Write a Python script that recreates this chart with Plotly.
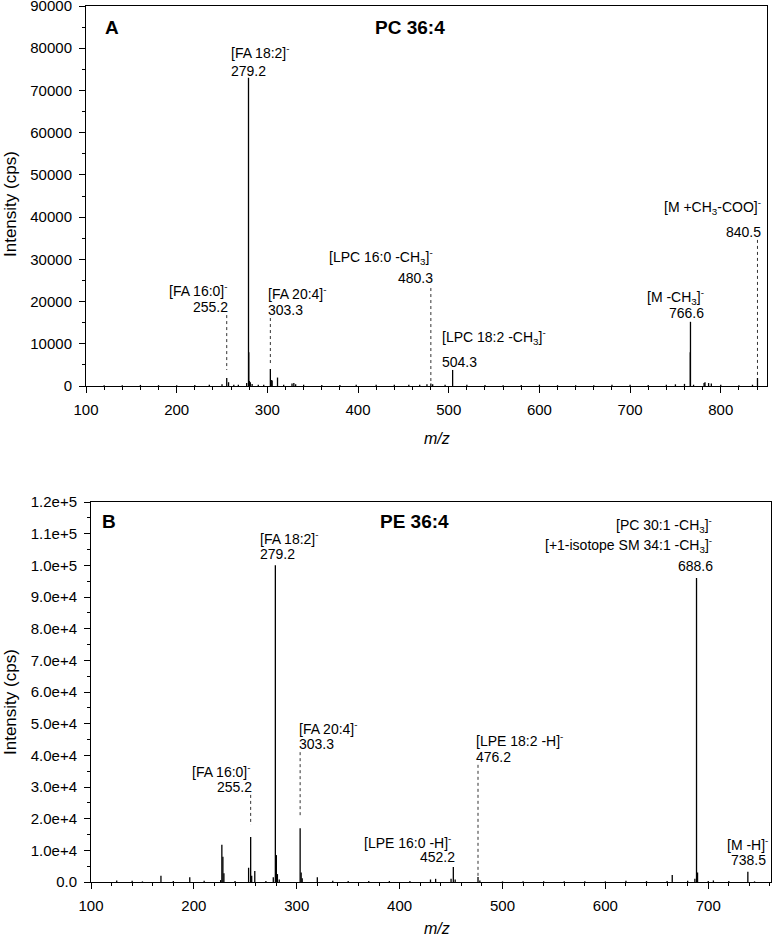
import plotly.graph_objects as go

# ---------------- Data ----------------
# Panel A: PC 36:4 product-ion spectrum (m/z, intensity in cps)
a_mz = [120, 140, 160, 180, 200, 220, 236, 250, 255.2, 257.2, 263, 268, 277.2, 279.2, 279.5,
        280.2, 281.2, 283.2, 290, 296, 303.3, 304.3, 305.3, 311.2, 318, 327.2, 329.2, 331.2,
        340, 360, 380, 398, 420, 440, 456, 468, 476, 480.3, 482.3, 496, 504.3, 520, 540,
        560, 580, 600, 620, 640, 660, 680, 700, 720, 740, 750, 760, 766.4, 766.6, 770,
        781.6, 782.6, 786.6, 789.6, 800, 820, 835, 840.5]
a_int = [200, 200, 250, 200, 200, 250, 300, 400, 1900, 900, 300, 300, 700, 73000, 8000,
         1200, 900, 500, 300, 300, 4000, 1400, 1300, 2000, 300, 600, 700, 400,
         300, 250, 250, 300, 300, 300, 300, 300, 400, 600, 400, 300, 3800, 300, 250,
         200, 250, 300, 200, 200, 200, 300, 300, 250, 300, 400, 500, 8000, 15200, 300,
         700, 900, 700, 600, 300, 200, 300, 1900]

# Panel B: PE 36:4 product-ion spectrum
b_mz = [125, 140, 150, 168, 180, 196, 210, 226, 227.2, 228.2, 229.2, 240, 253.2, 255.2,
        256.2, 259.2, 270, 277.2, 279.2, 280.2, 281.2, 283, 303.3, 304.3, 305.3, 320,
        335, 350, 370, 390, 410, 430, 435, 450, 452.2, 454, 476.2, 478, 500, 520, 540,
        560, 580, 600, 620, 640, 660, 665, 680, 687, 688.6, 689.6, 700, 705, 720, 738.5, 745]
b_int = [500, 400, 200, 2000, 300, 1500, 400, 600, 11800, 8000, 2800, 300, 4500, 14200,
         2000, 3500, 300, 1500, 100000, 8500, 2500, 800, 17000, 3000, 1200, 1500,
         400, 300, 300, 300, 300, 800, 1000, 1000, 4700, 800, 1600, 500, 200, 200, 200,
         200, 200, 200, 400, 300, 300, 2200, 400, 1000, 96000, 3000, 300, 500, 300, 3200, 200]

# Dotted leader lines: (m/z, from intensity, to intensity)
a_leaders_mz = [255.2, 303.3, 480.3, 840.5]
a_leaders_top = [16800, 16100, 23200, 34600]
a_leaders_bot = [3800, 5400, 700, 2100]
b_leaders_mz = [255.2, 303.3, 476.2]
b_leaders_top = [27500, 41000, 37000]
b_leaders_bot = [18000, 20200, 1600]

# Tick labels
a_ytickvals = [0, 10000, 20000, 30000, 40000, 50000, 60000, 70000, 80000, 90000]
a_yticktext = ["0", "10000", "20000", "30000", "40000", "50000", "60000", "70000", "80000", "90000"]
b_ytickvals = [0, 10000, 20000, 30000, 40000, 50000, 60000, 70000, 80000, 90000, 100000, 110000, 120000]
b_yticktext = ["0.0", "1.0e+4", "2.0e+4", "3.0e+4", "4.0e+4", "5.0e+4", "6.0e+4", "7.0e+4",
               "8.0e+4", "9.0e+4", "1.0e+5", "1.1e+5", "1.2e+5"]

M = "<sup>-</sup>"
CH3 = "CH<sub>3</sub>"
# Peak labels: (text, x, y, xanchor)
a_labels = [
    ("[FA 18:2]" + M, 257.6, 79100, "left"),
    ("279.2", 257.6, 74600, "left"),
    ("[FA 16:0]" + M, 258.7, 22700, "right"),
    ("255.2", 258.7, 18700, "right"),
    ("[FA 20:4]" + M, 298.4, 22000, "left"),
    ("303.3", 298.4, 18000, "left"),
    ("[LPC 16:0 -" + CH3 + "]" + M, 484.7, 30550, "right"),
    ("480.3", 484.7, 25600, "right"),
    ("[LPC 18:2 -" + CH3 + "]" + M, 490.3, 11600, "left"),
    ("504.3", 490.3, 5700, "left"),
    ("[M -" + CH3 + "]" + M, 783.5, 21100, "right"),
    ("766.6", 783.5, 17300, "right"),
    ("[M +" + CH3 + "-COO]" + M, 846.3, 42400, "right"),
    ("840.5", 846.3, 36500, "right"),
]
b_labels = [
    ("[FA 18:2]" + M, 262.6, 108600, "left"),
    ("279.2", 262.6, 103600, "left"),
    ("[PC 30:1 -" + CH3 + "]" + M, 705.7, 112700, "right"),
    ("[+1-isotope SM 34:1 -" + CH3 + "]" + M, 705.7, 106400, "right"),
    ("688.6", 706.7, 99800, "right"),
    ("[FA 20:4]" + M, 300.5, 48600, "left"),
    ("303.3", 300.5, 43600, "left"),
    ("[FA 16:0]" + M, 257.6, 35100, "right"),
    ("255.2", 258.7, 30000, "right"),
    ("[LPE 16:0 -H]" + M, 452.2, 12600, "right"),
    ("452.2", 456.0, 7900, "right"),
    ("[LPE 18:2 -H]" + M, 472.5, 44800, "left"),
    ("476.2", 472.5, 39500, "left"),
    ("[M -H]" + M, 716.3, 12000, "left"),
    ("738.5", 758.2, 6900, "right"),
]

FONT = "Liberation Sans, Arial, Helvetica, sans-serif"


def sticks(mz, inten):
    xs, ys = [], []
    for m, i in zip(mz, inten):
        xs += [m, m, None]
        ys += [0, i, None]
    return xs, ys


def leaders(mz, top, bot):
    xs, ys = [], []
    for m, t, b in zip(mz, top, bot):
        xs += [m, m, None]
        ys += [t, b, None]
    return xs, ys


fig = go.Figure()

ax, ay = sticks(a_mz, a_int)
fig.add_trace(go.Scatter(x=ax, y=ay, mode="lines", line=dict(color="black", width=1.3),
                         xaxis="x", yaxis="y", hoverinfo="skip", showlegend=False))
lx, ly = leaders(a_leaders_mz, a_leaders_top, a_leaders_bot)
fig.add_trace(go.Scatter(x=lx, y=ly, mode="lines", line=dict(color="#333333", width=1, dash="dot"),
                         xaxis="x", yaxis="y", hoverinfo="skip", showlegend=False))

bx, by = sticks(b_mz, b_int)
fig.add_trace(go.Scatter(x=bx, y=by, mode="lines", line=dict(color="black", width=1.3),
                         xaxis="x2", yaxis="y2", hoverinfo="skip", showlegend=False))
lx, ly = leaders(b_leaders_mz, b_leaders_top, b_leaders_bot)
fig.add_trace(go.Scatter(x=lx, y=ly, mode="lines", line=dict(color="#333333", width=1, dash="dot"),
                         xaxis="x2", yaxis="y2", hoverinfo="skip", showlegend=False))

W, H = 774, 938

axis_common = dict(showline=True, linecolor="black", linewidth=1, mirror=True,
                   ticks="outside", ticklen=6, tickwidth=1, tickcolor="black",
                   showgrid=False, zeroline=False, automargin=False,
                   ticklabeloverflow="allow",
                   tickfont=dict(family=FONT, size=15, color="black"))

xa = dict(axis_common, range=[100, 851], tickvals=[100, 200, 300, 400, 500, 600, 700, 800],
          minor=dict(dtick=20, tick0=100, ticks="outside", ticklen=3, tickcolor="black", showgrid=False),
          domain=[86 / W, 767 / W], anchor="y", ticklabelstandoff=4)
ya = dict(axis_common, range=[0, 90000], tickvals=a_ytickvals, ticktext=a_yticktext,
          minor=dict(dtick=5000, tick0=0, ticks="outside", ticklen=3, tickcolor="black", showgrid=False),
          domain=[(H - 386) / H, (H - 6) / H], anchor="x", ticklabelstandoff=4)
xb = dict(axis_common, range=[100, 761], tickvals=[100, 200, 300, 400, 500, 600, 700],
          minor=dict(dtick=20, tick0=100, ticks="outside", ticklen=3, tickcolor="black", showgrid=False),
          domain=[91 / W, 771 / W], anchor="y2", ticklabelstandoff=4)
yb = dict(axis_common, range=[0, 120000], tickvals=b_ytickvals, ticktext=b_yticktext,
          minor=dict(dtick=5000, tick0=0, ticks="outside", ticklen=3, tickcolor="black", showgrid=False),
          domain=[(H - 882) / H, (H - 502) / H], anchor="x2", ticklabelstandoff=4)

annotations = []
for (t, x, y, xa_) in a_labels:
    annotations.append(dict(text=t, x=x, y=y, xref="x", yref="y", xanchor=xa_, yanchor="middle",
                            showarrow=False, font=dict(family=FONT, size=14, color="black")))
for (t, x, y, xa_) in b_labels:
    annotations.append(dict(text=t, x=x, y=y, xref="x2", yref="y2", xanchor=xa_, yanchor="middle",
                            showarrow=False, font=dict(family=FONT, size=14, color="black")))

# panel letters & titles
annotations += [
    dict(text="<b>A</b>", x=118.7, y=85000, xref="x", yref="y", xanchor="left", yanchor="middle",
         showarrow=False, font=dict(family=FONT, size=19, color="black")),
    dict(text="<b>PC 36:4</b>", x=416.4, y=85000, xref="x", yref="y", xanchor="left", yanchor="middle",
         showarrow=False, font=dict(family=FONT, size=19, color="black")),
    dict(text="<b>B</b>", x=109, y=113700, xref="x2", yref="y2", xanchor="left", yanchor="middle",
         showarrow=False, font=dict(family=FONT, size=19, color="black")),
    dict(text="<b>PE 36:4</b>", x=379.2, y=113700, xref="x2", yref="y2", xanchor="left", yanchor="middle",
         showarrow=False, font=dict(family=FONT, size=19, color="black")),
    # axis titles
    dict(text="Intensity (cps)", x=10 / W, y=(H - 204) / H, xref="paper", yref="paper",
         textangle=-90, showarrow=False, xanchor="center", yanchor="middle",
         font=dict(family=FONT, size=17, color="black")),
    dict(text="Intensity (cps)", x=10 / W, y=(H - 702) / H, xref="paper", yref="paper",
         textangle=-90, showarrow=False, xanchor="center", yanchor="middle",
         font=dict(family=FONT, size=17, color="black")),
    dict(text="<i>m/z</i>", x=437 / W, y=(H - 438) / H, xref="paper", yref="paper",
         showarrow=False, xanchor="center", yanchor="middle",
         font=dict(family=FONT, size=16, color="black")),
    dict(text="<i>m/z</i>", x=437 / W, y=(H - 928) / H, xref="paper", yref="paper",
         showarrow=False, xanchor="center", yanchor="middle",
         font=dict(family=FONT, size=16, color="black")),
]

fig.update_layout(
    width=W, height=H,
    margin=dict(l=0, r=0, t=0, b=0),
    paper_bgcolor="white", plot_bgcolor="white",
    xaxis=xa, yaxis=ya, xaxis2=xb, yaxis2=yb,
    annotations=annotations,
    showlegend=False,
    font=dict(family=FONT, color="black"),
)

fig.write_html(
    "out.html",
    config={"displayModeBar": False},
    post_script="document.body.style.margin='0';document.body.style.padding='0';"
                "document.body.style.overflow='hidden';",
)
